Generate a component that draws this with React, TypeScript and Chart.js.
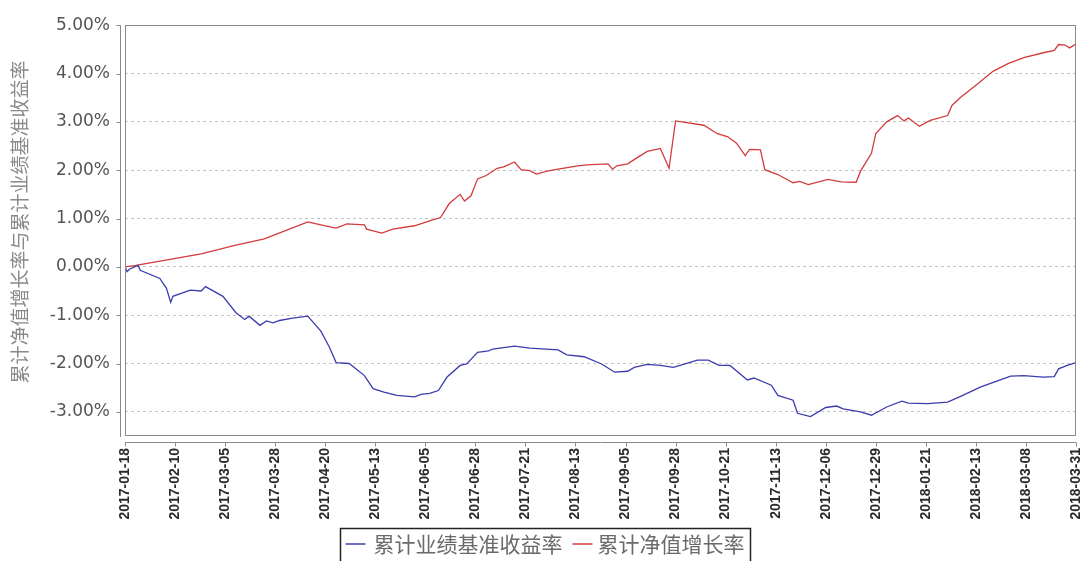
import React, { useEffect, useRef } from 'react';
import { Chart, registerables } from 'chart.js';

Chart.register(...registerables);

// ---------- data ----------
const startDate = '2017-01-18';
const xTickLabels = [
  '2017-01-18', '2017-02-10', '2017-03-05', '2017-03-28', '2017-04-20',
  '2017-05-13', '2017-06-05', '2017-06-28', '2017-07-21', '2017-08-13',
  '2017-09-05', '2017-09-28', '2017-10-21', '2017-11-13', '2017-12-06',
  '2017-12-29', '2018-01-21', '2018-02-13', '2018-03-08', '2018-03-31',
];
const yTickValues = [5, 4, 3, 2, 1, 0, -1, -2, -3];
const seriesNames = ['累计业绩基准收益率', '累计净值增长率'];
const yAxisTitle = '累计净值增长率与累计业绩基准收益率';

// days since startDate
const benchmarkDays = [
  0, 1, 2, 6, 7, 16, 19, 21, 22, 30,
  35, 37, 45, 51, 55, 57, 62, 65, 68, 71,
  77, 84, 90, 94, 97, 103, 110, 114, 119, 125,
  133, 136, 140, 144, 148, 154, 157, 162, 167, 169,
  179, 186, 199, 203, 211, 219, 225, 231, 234, 240,
  246, 252, 263, 268, 273, 278, 286, 289, 297, 300,
  307, 309, 315, 322, 327, 330, 338, 343, 350, 357,
  360, 369, 378, 384, 393, 399, 407, 413, 422, 427,
  429, 433, 437,
];
const benchmarkValues = [
  0, -0.10, -0.05, 0.03, -0.07, -0.24, -0.44, -0.73, -0.61, -0.48,
  -0.50, -0.41, -0.61, -0.95, -1.09, -1.02, -1.21, -1.12, -1.16, -1.11,
  -1.06, -1.02, -1.33, -1.67, -1.98, -2.00, -2.25, -2.52, -2.59, -2.66,
  -2.69, -2.64, -2.62, -2.56, -2.28, -2.04, -2.01, -1.77, -1.74, -1.70,
  -1.64, -1.68, -1.72, -1.82, -1.86, -2.01, -2.18, -2.16, -2.08, -2.02,
  -2.04, -2.08, -1.93, -1.93, -2.04, -2.04, -2.34, -2.30, -2.45, -2.66,
  -2.76, -3.03, -3.10, -2.91, -2.88, -2.94, -3.00, -3.07, -2.90, -2.78,
  -2.82, -2.83, -2.80, -2.68, -2.49, -2.39, -2.26, -2.25, -2.28, -2.27,
  -2.11, -2.04, -1.98,
];

const navDays = [
  0, 5, 35, 50, 64, 84, 90, 97, 102, 110, 111, 118,
  123, 133, 140, 145, 149, 154, 156, 159, 162, 166,
  171, 174, 179, 182, 186, 189, 194, 199, 208, 212,
  222, 224, 226, 231, 235, 240, 246, 250, 253, 266,
  272, 277, 281, 285, 287, 292, 294, 300, 307, 310,
  314, 323, 329, 336, 338, 343, 345, 350, 355, 358,
  360, 365, 370, 378, 380, 384, 390, 399, 406, 413,
  422, 427, 429, 432, 434, 437,
];
const navValues = [
  0, 0.03, 0.27, 0.44, 0.58, 0.93, 0.87, 0.80, 0.89, 0.87, 0.78, 0.70,
  0.78, 0.85, 0.95, 1.02, 1.31, 1.50, 1.36, 1.47, 1.82, 1.89,
  2.04, 2.07, 2.17, 2.01, 1.99, 1.92, 1.98, 2.02, 2.09, 2.11,
  2.13, 2.02, 2.09, 2.13, 2.25, 2.39, 2.45, 2.04, 3.02, 2.93,
  2.76, 2.69, 2.56, 2.30, 2.43, 2.42, 2.01, 1.91, 1.74, 1.77,
  1.70, 1.81, 1.76, 1.75, 1.98, 2.35, 2.76, 3.00, 3.13, 3.02,
  3.08, 2.91, 3.03, 3.13, 3.34, 3.51, 3.72, 4.05, 4.21, 4.33,
  4.43, 4.48, 4.60, 4.59, 4.53, 4.61,
];

// ---------- helpers ----------
const DAY_MS = 86400000;
const START_MS = Date.parse(startDate + 'T00:00:00Z');
const toDay = (s: string) => Math.round((Date.parse(s + 'T00:00:00Z') - START_MS) / DAY_MS);
const fmtDay = (d: number) => new Date(START_MS + Math.round(d) * DAY_MS).toISOString().slice(0, 10);
const xTickDays = xTickLabels.map(toDay);

const BLUE = '#3c3cae';
const RED = '#d23c3c';

const framePlugin = {
  id: 'frameAndLegend',
  afterDraw(chart: any) {
    const { ctx, chartArea: a, scales } = chart;
    ctx.save();
    // plot border
    ctx.strokeStyle = '#8a8a8a';
    ctx.lineWidth = 1;
    ctx.strokeRect(Math.round(a.left) + 0.5, Math.round(a.top) + 0.5,
      Math.round(a.right - a.left) - 1, Math.round(a.bottom - a.top) - 1);
    // offset axes
    ctx.beginPath();
    const ax = Math.round(a.left) - 5 + 0.5;
    ctx.moveTo(ax, a.top);
    ctx.lineTo(ax, a.bottom + 1);
    yTickValues.forEach((v) => {
      const y = Math.round(scales.y.getPixelForValue(v)) + 0.5;
      ctx.moveTo(ax - 4, y);
      ctx.lineTo(ax, y);
    });
    const ay = Math.round(a.bottom) + 6 + 0.5;
    ctx.moveTo(a.left, ay);
    ctx.lineTo(a.right, ay);
    xTickDays.forEach((d) => {
      const x = Math.round(scales.x.getPixelForValue(d)) + 0.5;
      ctx.moveTo(x, ay);
      ctx.lineTo(x, ay + 4);
    });
    ctx.stroke();

    // y axis title
    ctx.save();
    ctx.translate(20, 222);
    ctx.rotate(-Math.PI / 2);
    ctx.font = '19px "Noto Sans CJK SC"';
    ctx.fillStyle = '#8a8a8a';
    ctx.textAlign = 'center';
    ctx.textBaseline = 'middle';
    ctx.fillText(yAxisTitle, 0, 0);
    ctx.restore();

    // legend
    ctx.font = '21px "Noto Sans CJK SC"';
    const w1 = ctx.measureText(seriesNames[0]).width;
    const w2 = ctx.measureText(seriesNames[1]).width;
    const total = 5 + 20 + 8 + w1 + 10 + 20 + 5 + w2 + 6;
    const left = Math.round(545 - total / 2) + 0.5;
    const top = 528.5;
    ctx.strokeStyle = '#222';
    ctx.lineWidth = 1.5;
    ctx.strokeRect(left, top, total, 50);
    const cy = 544;
    let x = left + 5;
    const colors = [chart.data.datasets[0].borderColor, chart.data.datasets[1].borderColor];
    [w1, w2].forEach((w, i) => {
      ctx.strokeStyle = colors[i];
      ctx.lineWidth = 1.5;
      ctx.beginPath();
      ctx.moveTo(x, cy);
      ctx.lineTo(x + 20, cy);
      ctx.stroke();
      x += 20 + (i === 0 ? 8 : 5);
      ctx.fillStyle = '#6a6a6a';
      ctx.textAlign = 'left';
      ctx.textBaseline = 'middle';
      ctx.fillText(seriesNames[i], x, cy);
      x += w + 10;
    });
    ctx.restore();
  },
};

export default function App() {
  const canvasRef = useRef<HTMLCanvasElement | null>(null);

  useEffect(() => {
    if (!canvasRef.current) return;
    const chart = new Chart(canvasRef.current, {
      type: 'line',
      data: {
        datasets: [
          {
            label: seriesNames[0],
            data: benchmarkDays.map((d, i) => ({ x: d, y: benchmarkValues[i] })),
            borderColor: BLUE,
            borderWidth: 1.3,
            pointRadius: 0,
            tension: 0,
            fill: false,
          },
          {
            label: seriesNames[1],
            data: navDays.map((d, i) => ({ x: d, y: navValues[i] })),
            borderColor: RED,
            borderWidth: 1.3,
            pointRadius: 0,
            tension: 0,
            fill: false,
          },
        ],
      },
      options: {
        animation: false,
        responsive: false,
        events: [],
        layout: { padding: { top: 20, right: 6, left: 0, bottom: 0 } },
        plugins: {
          legend: { display: false },
          tooltip: { enabled: false },
          title: { display: false },
        },
        scales: {
          x: {
            type: 'linear',
            min: 0,
            max: toDay(xTickLabels[xTickLabels.length - 1]),
            afterBuildTicks: (scale: any) => {
              scale.ticks = xTickDays.map((v) => ({ value: v }));
            },
            afterFit: (scale: any) => {
              scale.height = 125;
              scale.paddingLeft = 0;
              scale.paddingRight = 0;
            },
            grid: { display: false, drawTicks: false },
            border: { display: false },
            ticks: {
              autoSkip: false,
              maxRotation: 90,
              minRotation: 90,
              padding: 12,
              color: '#2a2a2a',
              font: { family: '"Liberation Sans", Arial, sans-serif', size: 14, weight: 'bold' },
              callback: (v: any) => fmtDay(Number(v)),
            },
          },
          y: {
            type: 'linear',
            min: -3.5,
            max: 5,
            afterBuildTicks: (scale: any) => {
              scale.ticks = yTickValues.map((v) => ({ value: v }));
            },
            afterFit: (scale: any) => {
              scale.width = 125;
            },
            grid: { color: '#c4c4c4', drawTicks: false, lineWidth: 1 },
            border: { display: false, dash: [3, 3] },
            ticks: {
              padding: 15,
              color: '#555',
              font: { family: '"DejaVu Sans", sans-serif', size: 17 },
              callback: (v: any) => Number(v).toFixed(2) + '%',
            },
          },
        },
      },
      plugins: [framePlugin],
    });
    return () => chart.destroy();
  }, []);

  return (
    <div style={{ position: 'absolute', left: 0, top: 0, width: 1082, height: 561, background: '#fff' }}>
      <canvas ref={canvasRef} width={1082} height={561} style={{ display: 'block' }} />
    </div>
  );
}
